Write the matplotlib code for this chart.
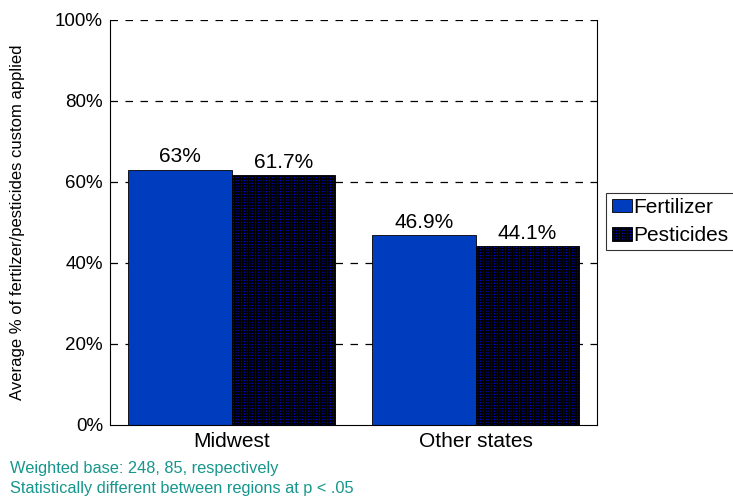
import numpy as np
import matplotlib.pyplot as plt

plt.rcParams['font.family'] = ['Liberation Sans', 'DejaVu Sans']
plt.rcParams['hatch.linewidth'] = 1.1
plt.rcParams['hatch.color'] = 'black'

regions = ['Midwest', 'Other states']
fertilizer = [63, 46.9]
pesticides = [61.7, 44.1]
fert_labels = ['63%', '46.9%']
pest_labels = ['61.7%', '44.1%']
yticks = [0, 20, 40, 60, 80, 100]

fig = plt.figure(figsize=(7.33, 4.98), dpi=100)
ax = fig.add_axes([0.150, 0.147, 0.665, 0.813])

x = np.arange(len(regions)) + 0.5
w = 0.425
for y in yticks[1:]:
    ax.axhline(y, color='black', lw=0.9, ls=(0, (6, 6)), zorder=0)

b1 = ax.bar(x - w / 2, fertilizer, w, color='#003cbe', edgecolor='black', lw=0.6,
            label='Fertilizer', zorder=2)
b2 = ax.bar(x + w / 2, pesticides, w, color='#0008cc', edgecolor='black', lw=0.6,
            hatch='++++++', label='Pesticides', zorder=2)

for xi, v, t in zip(x - w / 2, fertilizer, fert_labels):
    ax.text(xi, v + 0.8, t, ha='center', va='bottom', fontsize=15)
for xi, v, t in zip(x + w / 2, pesticides, pest_labels):
    ax.text(xi, v + 0.8, t, ha='center', va='bottom', fontsize=15)

ax.set_xlim(0, 2)
ax.set_ylim(0, 100)
ax.set_xticks(x)
ax.set_xticklabels(regions, fontsize=15)
ax.set_yticks(yticks)
ax.set_yticklabels([f'{v}%' for v in yticks], fontsize=13.5)
ax.tick_params(length=0, pad=5)
ax.spines['top'].set_visible(False)
ax.set_ylabel('Average % of fertilzer/pesticides custom applied', fontsize=12)
ax.yaxis.set_label_coords(-0.175, 0.5)

leg = ax.legend(loc='center left', bbox_to_anchor=(1.0185, 0.502), fontsize=15, frameon=True,
                fancybox=False, edgecolor='black', handlelength=0.96, handleheight=0.62,
                handletextpad=0.08, borderpad=0.25, labelspacing=0.45, borderaxespad=0)
leg.get_frame().set_linewidth(0.8)

fig.text(0.014, 0.060, 'Weighted base: 248, 85, respectively', color='#16968c',
         fontsize=11.8, va='center')
fig.text(0.014, 0.020, 'Statistically different between regions at p < .05', color='#16968c',
         fontsize=11.8, va='center')

fig.savefig('out.png', dpi=100)
